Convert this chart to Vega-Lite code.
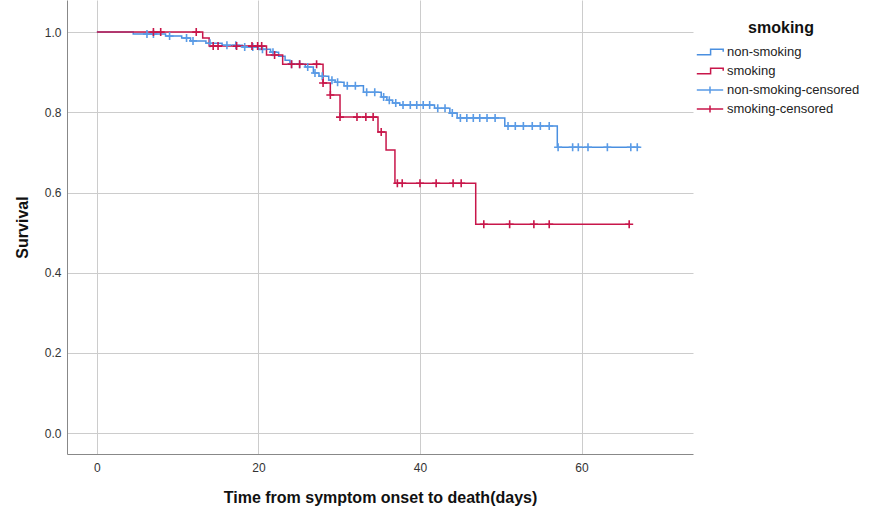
{
  "$schema": "https://vega.github.io/schema/vega-lite/v6.json",
  "width": 626,
  "height": 454,
  "autosize": {"type": "none"},
  "padding": {"left": 67, "top": 0, "right": 179, "bottom": 56},
  "background": "white",
  "config": {
    "view": {"stroke": null},
    "font": "Liberation Sans",
    "axis": {"gridColor": "#cccccc", "gridWidth": 1, "domainColor": "#888888", "ticks": false, "labelFontSize": 12, "labelColor": "#333333", "titleFontSize": 16, "titleFontWeight": "bold", "titleColor": "#111111"}
  },
  "datasets": {
    "curves": [
      {"series": "non-smoking", "t": 0, "s": 1.0},
      {"series": "non-smoking", "t": 4.5, "s": 0.995},
      {"series": "non-smoking", "t": 8.5, "s": 0.99},
      {"series": "non-smoking", "t": 10.5, "s": 0.985},
      {"series": "non-smoking", "t": 11.6, "s": 0.978},
      {"series": "non-smoking", "t": 13.5, "s": 0.972},
      {"series": "non-smoking", "t": 15.5, "s": 0.967},
      {"series": "non-smoking", "t": 18, "s": 0.963},
      {"series": "non-smoking", "t": 20, "s": 0.957},
      {"series": "non-smoking", "t": 21.5, "s": 0.95},
      {"series": "non-smoking", "t": 22.5, "s": 0.94},
      {"series": "non-smoking", "t": 23.3, "s": 0.93},
      {"series": "non-smoking", "t": 23.9, "s": 0.92},
      {"series": "non-smoking", "t": 25.8, "s": 0.913},
      {"series": "non-smoking", "t": 26.8, "s": 0.898},
      {"series": "non-smoking", "t": 27.5, "s": 0.89},
      {"series": "non-smoking", "t": 28.7, "s": 0.88},
      {"series": "non-smoking", "t": 29.5, "s": 0.875},
      {"series": "non-smoking", "t": 30.6, "s": 0.866},
      {"series": "non-smoking", "t": 33, "s": 0.85},
      {"series": "non-smoking", "t": 35.2, "s": 0.838},
      {"series": "non-smoking", "t": 35.9, "s": 0.83},
      {"series": "non-smoking", "t": 36.6, "s": 0.823},
      {"series": "non-smoking", "t": 37.5, "s": 0.818},
      {"series": "non-smoking", "t": 41.8, "s": 0.81},
      {"series": "non-smoking", "t": 43.7, "s": 0.798},
      {"series": "non-smoking", "t": 44.6, "s": 0.786},
      {"series": "non-smoking", "t": 50.5, "s": 0.766},
      {"series": "non-smoking", "t": 57.0, "s": 0.713},
      {"series": "non-smoking", "t": 67.2, "s": 0.713},
      {"series": "smoking", "t": 0, "s": 1.0},
      {"series": "smoking", "t": 13.1, "s": 0.985},
      {"series": "smoking", "t": 13.9, "s": 0.965},
      {"series": "smoking", "t": 21.0, "s": 0.943},
      {"series": "smoking", "t": 23.0, "s": 0.92},
      {"series": "smoking", "t": 28.0, "s": 0.873},
      {"series": "smoking", "t": 28.9, "s": 0.843},
      {"series": "smoking", "t": 30.1, "s": 0.788},
      {"series": "smoking", "t": 34.8, "s": 0.751},
      {"series": "smoking", "t": 35.8, "s": 0.706},
      {"series": "smoking", "t": 36.9, "s": 0.623},
      {"series": "smoking", "t": 46.9, "s": 0.521},
      {"series": "smoking", "t": 65.9, "s": 0.521}
    ],
    "censored": [
      {"series": "non-smoking-censored", "t": 6.2, "s": 0.995},
      {"series": "non-smoking-censored", "t": 7.0, "s": 0.995},
      {"series": "non-smoking-censored", "t": 9.0, "s": 0.99},
      {"series": "non-smoking-censored", "t": 11.1, "s": 0.985},
      {"series": "non-smoking-censored", "t": 11.9, "s": 0.978},
      {"series": "non-smoking-censored", "t": 14.0, "s": 0.972},
      {"series": "non-smoking-censored", "t": 16.1, "s": 0.967},
      {"series": "non-smoking-censored", "t": 17.2, "s": 0.967},
      {"series": "non-smoking-censored", "t": 18.3, "s": 0.963},
      {"series": "non-smoking-censored", "t": 19.3, "s": 0.963},
      {"series": "non-smoking-censored", "t": 20.5, "s": 0.957},
      {"series": "non-smoking-censored", "t": 21.8, "s": 0.95},
      {"series": "non-smoking-censored", "t": 24.1, "s": 0.92},
      {"series": "non-smoking-censored", "t": 25.1, "s": 0.92},
      {"series": "non-smoking-censored", "t": 26.1, "s": 0.913},
      {"series": "non-smoking-censored", "t": 27.0, "s": 0.898},
      {"series": "non-smoking-censored", "t": 27.9, "s": 0.89},
      {"series": "non-smoking-censored", "t": 29.1, "s": 0.88},
      {"series": "non-smoking-censored", "t": 29.8, "s": 0.875},
      {"series": "non-smoking-censored", "t": 31.0, "s": 0.866},
      {"series": "non-smoking-censored", "t": 32.0, "s": 0.866},
      {"series": "non-smoking-censored", "t": 33.4, "s": 0.85},
      {"series": "non-smoking-censored", "t": 34.4, "s": 0.85},
      {"series": "non-smoking-censored", "t": 35.5, "s": 0.838},
      {"series": "non-smoking-censored", "t": 36.2, "s": 0.83},
      {"series": "non-smoking-censored", "t": 37.0, "s": 0.823},
      {"series": "non-smoking-censored", "t": 37.9, "s": 0.818},
      {"series": "non-smoking-censored", "t": 38.8, "s": 0.818},
      {"series": "non-smoking-censored", "t": 39.6, "s": 0.818},
      {"series": "non-smoking-censored", "t": 40.4, "s": 0.818},
      {"series": "non-smoking-censored", "t": 41.2, "s": 0.818},
      {"series": "non-smoking-censored", "t": 42.2, "s": 0.81},
      {"series": "non-smoking-censored", "t": 43.1, "s": 0.81},
      {"series": "non-smoking-censored", "t": 44.0, "s": 0.798},
      {"series": "non-smoking-censored", "t": 45.0, "s": 0.786},
      {"series": "non-smoking-censored", "t": 45.8, "s": 0.786},
      {"series": "non-smoking-censored", "t": 46.6, "s": 0.786},
      {"series": "non-smoking-censored", "t": 47.4, "s": 0.786},
      {"series": "non-smoking-censored", "t": 48.3, "s": 0.786},
      {"series": "non-smoking-censored", "t": 49.3, "s": 0.786},
      {"series": "non-smoking-censored", "t": 50.9, "s": 0.766},
      {"series": "non-smoking-censored", "t": 51.8, "s": 0.766},
      {"series": "non-smoking-censored", "t": 52.8, "s": 0.766},
      {"series": "non-smoking-censored", "t": 53.9, "s": 0.766},
      {"series": "non-smoking-censored", "t": 54.9, "s": 0.766},
      {"series": "non-smoking-censored", "t": 56.0, "s": 0.766},
      {"series": "non-smoking-censored", "t": 57.1, "s": 0.713},
      {"series": "non-smoking-censored", "t": 58.9, "s": 0.713},
      {"series": "non-smoking-censored", "t": 59.6, "s": 0.713},
      {"series": "non-smoking-censored", "t": 60.8, "s": 0.713},
      {"series": "non-smoking-censored", "t": 63.2, "s": 0.713},
      {"series": "non-smoking-censored", "t": 66.1, "s": 0.713},
      {"series": "non-smoking-censored", "t": 66.9, "s": 0.713},
      {"series": "smoking-censored", "t": 7.0, "s": 1.0},
      {"series": "smoking-censored", "t": 7.9, "s": 1.0},
      {"series": "smoking-censored", "t": 12.3, "s": 1.0},
      {"series": "smoking-censored", "t": 14.4, "s": 0.965},
      {"series": "smoking-censored", "t": 15.0, "s": 0.965},
      {"series": "smoking-censored", "t": 17.3, "s": 0.965},
      {"series": "smoking-censored", "t": 19.2, "s": 0.965},
      {"series": "smoking-censored", "t": 19.9, "s": 0.965},
      {"series": "smoking-censored", "t": 20.4, "s": 0.965},
      {"series": "smoking-censored", "t": 22.0, "s": 0.943},
      {"series": "smoking-censored", "t": 24.1, "s": 0.92},
      {"series": "smoking-censored", "t": 25.1, "s": 0.92},
      {"series": "smoking-censored", "t": 27.2, "s": 0.92},
      {"series": "smoking-censored", "t": 28.0, "s": 0.873},
      {"series": "smoking-censored", "t": 28.9, "s": 0.843},
      {"series": "smoking-censored", "t": 30.1, "s": 0.788},
      {"series": "smoking-censored", "t": 32.2, "s": 0.788},
      {"series": "smoking-censored", "t": 33.3, "s": 0.788},
      {"series": "smoking-censored", "t": 34.2, "s": 0.788},
      {"series": "smoking-censored", "t": 35.2, "s": 0.751},
      {"series": "smoking-censored", "t": 37.2, "s": 0.623},
      {"series": "smoking-censored", "t": 37.8, "s": 0.623},
      {"series": "smoking-censored", "t": 40.0, "s": 0.623},
      {"series": "smoking-censored", "t": 42.0, "s": 0.623},
      {"series": "smoking-censored", "t": 44.1, "s": 0.623},
      {"series": "smoking-censored", "t": 45.1, "s": 0.623},
      {"series": "smoking-censored", "t": 47.9, "s": 0.521},
      {"series": "smoking-censored", "t": 51.1, "s": 0.521},
      {"series": "smoking-censored", "t": 54.1, "s": 0.521},
      {"series": "smoking-censored", "t": 56.0, "s": 0.521},
      {"series": "smoking-censored", "t": 65.9, "s": 0.521}
    ]
  },
  "encoding": {
    "x": {"field": "t", "type": "quantitative", "scale": {"domain": [-3.7, 73.8], "nice": false, "zero": false},
      "axis": {"values": [0, 20, 40, 60], "title": "Time from symptom onset to death(days)", "labelPadding": 8, "titlePadding": 16, "format": "d"}},
    "y": {"field": "s", "type": "quantitative", "scale": {"domain": [-0.052, 1.08], "nice": false, "zero": false},
      "axis": {"values": [0, 0.2, 0.4, 0.6, 0.8, 1.0], "format": ".1f", "title": "Survival", "labelPadding": 6, "titlePadding": 14}},
    "color": {"field": "series", "type": "nominal",
      "scale": {"domain": ["non-smoking", "smoking", "non-smoking-censored", "smoking-censored"], "range": ["#4a8fe0", "#c8164a", "#5a9be6", "#c8164a"]},
      "legend": {"title": "smoking", "orient": "none", "legendX": 636, "legendY": 20,
        "titleFontSize": 16, "titleFontWeight": "bold", "titleColor": "#111111", "titleAnchor": "middle", "titlePadding": 9,
        "labelFontSize": 13, "labelColor": "#222222", "labelOffset": 10, "rowPadding": 5,
        "symbolSize": 144, "symbolStrokeWidth": 1.5,
        "encode": {"symbols": {"update": {
          "shape": {"signal": "indexof(datum.value, 'censored') >= 0 ? 'M-2.2,0H2.2M0,-0.6V0.6' : 'M-2.2,0.45H0.1V-0.45H2.2V-0.05'"},
          "fill": {"value": "transparent"},
          "strokeWidth": {"value": 1.5}
        }}}
      }
    }
  },
  "layer": [
    {
      "data": {"name": "curves"},
      "mark": {"type": "line", "interpolate": "step-after", "strokeWidth": 1.5},
      "encoding": {}
    },
    {
      "data": {"name": "censored"},
      "mark": {"type": "point", "shape": "M-1,0H1M0,-1V1", "size": 64, "filled": false, "strokeWidth": 1.6, "opacity": 1},
      "encoding": {}
    }
  ]
}
